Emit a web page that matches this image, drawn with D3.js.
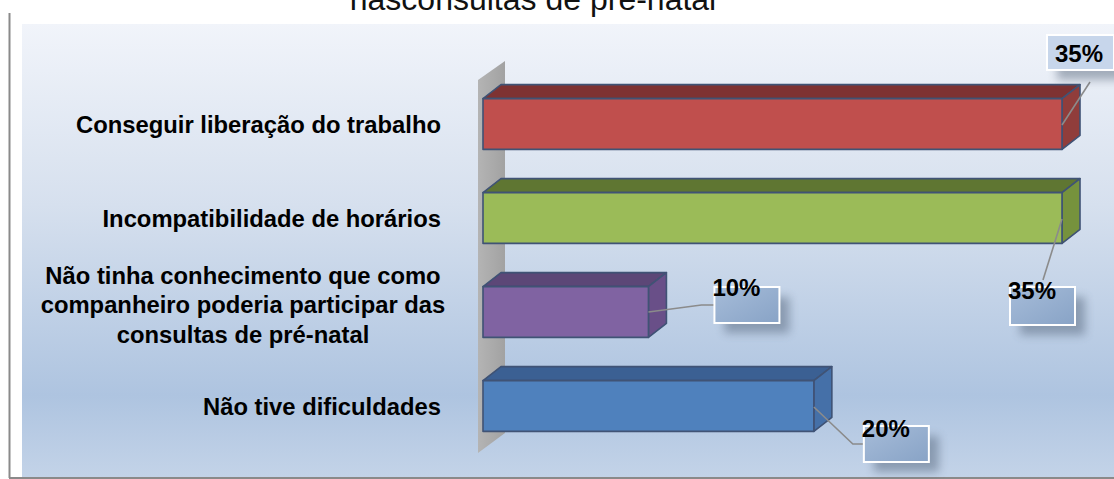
<!DOCTYPE html>
<html>
<head>
<meta charset="utf-8">
<script src="https://cdn.jsdelivr.net/npm/d3@7"></script>
<style>
  body { margin: 0; background: #fff; }
  svg { display: block; font-family: "Liberation Sans", Arial, sans-serif; }
</style>
</head>
<body>
<div id="chart"></div>
<script>
// data
let categories = [
  "Conseguir liberação do trabalho",
  "Incompatibilidade de horários",
  "Não tinha conhecimento que como\ncompanheiro poderia participar das\nconsultas de pré-natal",
  "Não tive dificuldades"
];
let values = [35, 35, 10, 20];
let valueLabels = ["35%", "35%", "10%", "20%"];

// colours: front, top, side
let frontColors = ["#c0504d", "#9bbb59", "#8064a2", "#4f81bd"];
let topColors = ["#7e3331", "#5f7633", "#5b4677", "#3a6093"];
let sideColors = ["#903d3b", "#76923c", "#694f88", "#4570a8"];

// data label boxes, placed relative to the end of each bar (as moved in the original)
let labelLayout = [
  { dx: -15, dy: -89, w: 67, h: 35, tx: 8, ty: 27, lead: [[0, 1], [28, -42]], light: true },
  { dx: -52, dy: 69, w: 65, h: 38, tx: -2, ty: 12, lead: [[0, 1], [-19, 62]] },
  { dx: 66, dy: -25, w: 65, h: 36, tx: -2, ty: 9, lead: [[0, 0], [53, -7], [66, -7]] },
  { dx: 50, dy: 20, w: 65, h: 36, tx: -2, ty: 11, lead: [[0, 1], [39, 38], [50, 38]] }
];

let width = 1114, height = 479;
let depth = { x: 18, y: -14 };

let svg = d3.select("#chart").append("svg")
  .attr("width", width)
  .attr("height", height);

let defs = svg.append("defs");
let bg = defs.append("linearGradient").attr("id", "bg")
  .attr("x1", 0).attr("y1", 0).attr("x2", 0).attr("y2", 1);
bg.append("stop").attr("offset", "0%").attr("stop-color", "#f1f4fa");
bg.append("stop").attr("offset", "40%").attr("stop-color", "#d6e0ee");
bg.append("stop").attr("offset", "82%").attr("stop-color", "#aec4e0");
bg.append("stop").attr("offset", "100%").attr("stop-color", "#c3d3e8");

let boxGrad = defs.append("linearGradient").attr("id", "boxGrad")
  .attr("x1", 0).attr("y1", 0).attr("x2", 1).attr("y2", 1);
boxGrad.append("stop").attr("offset", "0%").attr("stop-color", "#a6bcd9");
boxGrad.append("stop").attr("offset", "100%").attr("stop-color", "#88a3c6");

let wallGrad = defs.append("linearGradient").attr("id", "wallGrad")
  .attr("x1", 0).attr("y1", 0).attr("x2", 1).attr("y2", 0);
wallGrad.append("stop").attr("offset", "0%").attr("stop-color", "#b4b4b4");
wallGrad.append("stop").attr("offset", "100%").attr("stop-color", "#a2a2a2");

defs.append("filter").attr("id", "shadow")
  .attr("x", "-50%").attr("y", "-50%").attr("width", "200%").attr("height", "200%")
  .append("feGaussianBlur").attr("stdDeviation", 5);

defs.append("filter").attr("id", "soft")
  .append("feGaussianBlur").attr("stdDeviation", 0.5);

// frame + plot background
svg.append("rect")
  .attr("x", 22).attr("y", 24)
  .attr("width", width - 22).attr("height", 453)
  .attr("fill", "url(#bg)");

svg.append("line")
  .attr("x1", 9.5).attr("x2", 9.5).attr("y1", 13).attr("y2", 478)
  .attr("stroke", "#8a8a8a").attr("stroke-width", 2);
svg.append("line")
  .attr("x1", 9).attr("x2", width).attr("y1", 478).attr("y2", 478)
  .attr("stroke", "#8a8a8a").attr("stroke-width", 2);

// title (only its lower line shows, cut at the top as in the original)
svg.append("text")
  .attr("x", 533).attr("y", 9.5)
  .attr("text-anchor", "middle")
  .attr("font-size", 32)
  .attr("fill", "#111")
  .text("nasconsultas de pré-natal");

// scales
let x = d3.scaleLinear().domain([0, 35]).range([483, 1062]);
let y = d3.scaleBand().domain(categories).range([77, 453])
  .paddingInner(0.46).paddingOuter(0.23);

// side wall
let wx = x(0) - 5;
svg.append("polygon")
  .attr("points", [[wx, 80], [wx + 27, 61], [wx + 27, 433], [wx, 453]].map(p => p.join(",")).join(" "))
  .attr("fill", "url(#wallGrad)");

// bars
let bars = svg.selectAll("g.bar")
  .data(categories)
  .enter().append("g")
  .attr("class", "bar")
  .attr("filter", "url(#soft)");

bars.each(function (c, i) {
  let g = d3.select(this);
  let x0 = x(0), x1 = x(values[i]);
  let y0 = y(c), y1 = y(c) + y.bandwidth();
  let pts = a => a.map(p => p.join(",")).join(" ");
  g.append("polygon")
    .attr("points", pts([[x0, y0], [x0 + depth.x, y0 + depth.y], [x1 + depth.x, y0 + depth.y], [x1, y0]]))
    .attr("fill", topColors[i]);
  g.append("polygon")
    .attr("points", pts([[x1, y0], [x1 + depth.x, y0 + depth.y], [x1 + depth.x, y1 + depth.y], [x1, y1]]))
    .attr("fill", sideColors[i]);
  g.append("rect")
    .attr("x", x0).attr("y", y0)
    .attr("width", x1 - x0).attr("height", y1 - y0)
    .attr("fill", frontColors[i]);
  g.selectAll("polygon, rect")
    .attr("stroke", "#3f5275")
    .attr("stroke-width", 1.6)
    .attr("stroke-linejoin", "round");
});

// category labels
let catFont = 23.8;
categories.forEach(function (c, i) {
  let lines = c.split("\n");
  let cy = y(c) + y.bandwidth() / 2;
  let t = svg.append("text")
    .attr("font-size", catFont)
    .attr("font-weight", "bold")
    .attr("fill", "#000");
  if (lines.length === 1) {
    t.attr("x", 441).attr("y", cy + 8.5).attr("text-anchor", "end").text(c);
  } else {
    t.attr("text-anchor", "middle");
    lines.forEach(function (l, k) {
      t.append("tspan")
        .attr("x", 243)
        .attr("y", cy + 1 + (k - (lines.length - 1) / 2) * 29.5)
        .text(l);
    });
  }
});

// data labels
categories.forEach(function (c, i) {
  let L = labelLayout[i];
  let ex = x(values[i]);
  let ey = y(c) + y.bandwidth() / 2;
  let bx = ex + L.dx, by = ey + L.dy;

  svg.append("path")
    .attr("d", d3.line()(L.lead.map(p => [ex + p[0], ey + p[1]])))
    .attr("fill", "none")
    .attr("stroke", "#8b8b8b")
    .attr("stroke-width", 1.6);

  svg.append("rect")
    .attr("x", bx + 10).attr("y", by + 10)
    .attr("width", L.w).attr("height", L.h)
    .attr("fill", "#4a5a70").attr("opacity", 0.45)
    .attr("filter", "url(#shadow)");

  svg.append("rect")
    .attr("x", bx).attr("y", by)
    .attr("width", L.w).attr("height", L.h)
    .attr("fill", L.light ? "#c7d6eb" : "url(#boxGrad)")
    .attr("stroke", "#fff").attr("stroke-width", 2);

  svg.append("text")
    .attr("x", bx + L.tx).attr("y", by + L.ty)
    .attr("font-size", 24)
    .attr("font-weight", "bold")
    .attr("fill", "#000")
    .text(valueLabels[i]);
});
</script>
</body>
</html>
